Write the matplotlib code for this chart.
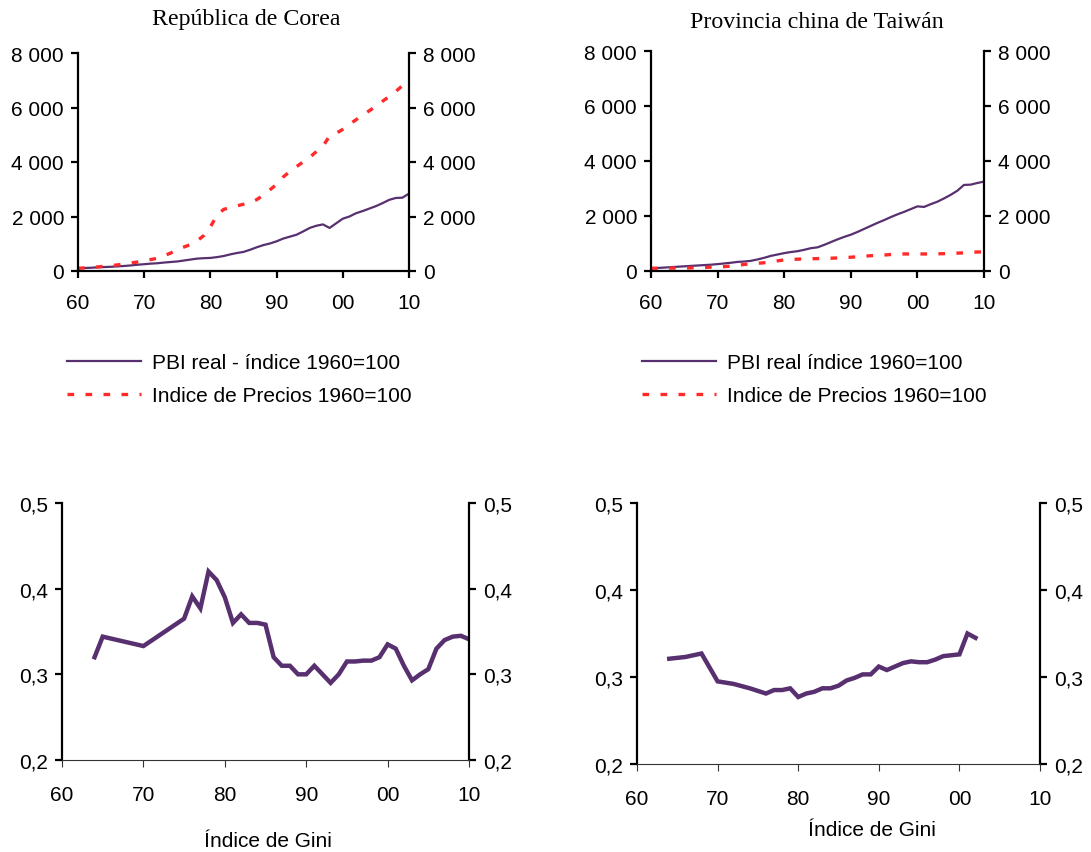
import numpy as np
import matplotlib
matplotlib.use("Agg")
from matplotlib import pyplot as plt

plt.rcParams['font.family'] = ['Liberation Sans', 'DejaVu Sans']

PURPLE = "#58306f"
RED = "#ff2a2a"

# --- datos ---
years = np.arange(1960, 2011)

# Republica de Corea, indices 1960=100
corea_pbi = [100, 110, 120, 135, 145, 155, 170, 185, 205, 230,
             250, 270, 285, 310, 330, 350, 385, 420, 455, 470,
             480, 510, 550, 610, 660, 700, 780, 870, 950, 1010,
             1090, 1190, 1260, 1330, 1450, 1580, 1660, 1710, 1580, 1750,
             1920, 2000, 2120, 2200, 2290, 2380, 2490, 2610, 2680, 2690, 2840]
corea_precios = [100, 115, 130, 150, 175, 200, 225, 260, 295, 330,
                 370, 420, 470, 560, 660, 780, 880, 970, 1110, 1300,
                 1620, 2050, 2260, 2330, 2390, 2450, 2510, 2620, 2780, 2980,
                 3180, 3450, 3650, 3830, 4000, 4170, 4380, 4580, 4950, 5050,
                 5200, 5380, 5550, 5720, 5880, 6050, 6230, 6400, 6590, 6800, 7030]

# Provincia china de Taiwan, indices 1960=100
taiwan_pbi = [100, 110, 125, 140, 155, 170, 185, 200, 215, 230,
              250, 275, 300, 330, 345, 370, 420, 480, 550, 600,
              650, 690, 720, 770, 830, 860, 950, 1050, 1150, 1240,
              1320, 1420, 1530, 1640, 1750, 1850, 1960, 2060, 2150, 2250,
              2350, 2330, 2430, 2520, 2640, 2770, 2920, 3130, 3140, 3200, 3250]
taiwan_precios = [100, 102, 104, 106, 108, 110, 115, 120, 130, 140,
                  150, 160, 175, 200, 240, 260, 280, 300, 330, 370,
                  400, 420, 430, 440, 445, 450, 455, 465, 475, 485,
                  500, 520, 540, 555, 570, 580, 600, 615, 620, 620,
                  620, 620, 620, 625, 630, 640, 650, 660, 680, 690, 700]

# Indice de Gini
gini_corea_anios = [1964, 1965, 1970, 1975, 1976, 1977, 1978, 1979, 1980, 1981,
                    1982, 1983, 1984, 1985, 1986, 1987, 1988, 1989, 1990, 1991,
                    1992, 1993, 1994, 1995, 1996, 1997, 1998, 1999, 2000, 2001,
                    2002, 2003, 2004, 2005, 2006, 2007, 2008, 2009, 2010]
gini_corea = [0.320, 0.344, 0.333, 0.365, 0.391, 0.377, 0.420, 0.410, 0.390, 0.360,
              0.370, 0.360, 0.360, 0.358, 0.320, 0.310, 0.310, 0.300, 0.300, 0.310,
              0.300, 0.290, 0.300, 0.315, 0.315, 0.316, 0.316, 0.320, 0.335, 0.330,
              0.310, 0.293, 0.300, 0.306, 0.330, 0.340, 0.344, 0.345, 0.341]

gini_taiwan_anios = [1964, 1966, 1968, 1970, 1972, 1974, 1976, 1977, 1978, 1979,
                     1980, 1981, 1982, 1983, 1984, 1985, 1986, 1987, 1988, 1989,
                     1990, 1991, 1992, 1993, 1994, 1995, 1996, 1997, 1998, 1999,
                     2000, 2001, 2002]
gini_taiwan = [0.321, 0.323, 0.327, 0.295, 0.292, 0.287, 0.281, 0.285, 0.285, 0.287,
               0.277, 0.281, 0.283, 0.287, 0.287, 0.290, 0.296, 0.299, 0.303, 0.303,
               0.312, 0.308, 0.312, 0.316, 0.318, 0.317, 0.317, 0.320, 0.324, 0.325,
               0.326, 0.350, 0.345]

xticks = [1960, 1970, 1980, 1990, 2000, 2010]
xtick_labels = ["60", "70", "80", "90", "00", "10"]
yticks_idx = [0, 2000, 4000, 6000, 8000]
ytick_idx_labels = ["0", "2 000", "4 000", "6 000", "8 000"]
yticks_gini = [0.2, 0.3, 0.4, 0.5]
ytick_gini_labels = ["0,2", "0,3", "0,4", "0,5"]

W, H = 1091, 853
fig = plt.figure(figsize=(W / 100, H / 100), dpi=100)


def add_ax(x0, x1, ytop, ybot):
    return fig.add_axes([x0 / W, (H - ybot) / H, (x1 - x0) / W, (ybot - ytop) / H])


def style(ax, yticks, ylabels, ylim, thin_bottom=False):
    ax.set_xlim(1960, 2010)
    ax.set_ylim(*ylim)
    ax.set_xticks(xticks)
    ax.set_xticklabels(xtick_labels)
    ax.set_yticks(yticks)
    ax.set_yticklabels(ylabels)
    ax.spines['top'].set_visible(False)
    for s in ['left', 'right', 'bottom']:
        ax.spines[s].set_linewidth(1.6)
    ax.yaxis.set_ticks_position('both')
    ax.tick_params(axis='y', direction='out', length=5, width=1.6,
                   labelsize=15, pad=5, labelright=True)
    ax.tick_params(axis='x', direction='out', length=5, width=1.6,
                   labelsize=15, pad=11)
    if thin_bottom:
        ax.spines['bottom'].set_linewidth(0.8)
        ax.spines['bottom'].set_color("#333333")
        ax.tick_params(axis='x', width=0.8, color="#333333", pad=13)
    ax.patch.set_visible(False)


DASH = (0, (2.0, 3.4))
LEG = dict(loc='upper left', bbox_transform=fig.transFigure, frameon=False,
           fontsize=15, handlelength=3.55, handletextpad=0.55, labelspacing=0.68,
           borderpad=0, borderaxespad=0)

# --- fila superior ---
ax1 = add_ax(78, 409, 54, 272)
l1, = ax1.plot(years, corea_pbi, color=PURPLE, lw=1.6, label="PBI real - índice 1960=100")
l2, = ax1.plot(years, corea_precios, color=RED, lw=2.4, linestyle=DASH,
               label="Indice de Precios 1960=100")
style(ax1, yticks_idx, ytick_idx_labels, (0, 8000))
fig.text(246 / W, 1 - 20 / H, "República de Corea", family="Liberation Serif",
         fontsize=17.2, ha='center', va='center')
ax1.legend(handles=[l1, l2], bbox_to_anchor=(67 / W, 1 - 354 / H), **LEG)

ax2 = add_ax(651, 984, 52, 272)
l3, = ax2.plot(years, taiwan_pbi, color=PURPLE, lw=1.6, label="PBI real índice 1960=100")
l4, = ax2.plot(years, taiwan_precios, color=RED, lw=2.4, linestyle=DASH,
               label="Indice de Precios 1960=100")
style(ax2, yticks_idx, ytick_idx_labels, (0, 8000))
fig.text(817 / W, 1 - 23 / H, "Provincia china de Taiwán", family="Liberation Serif",
         fontsize=17.2, ha='center', va='center')
ax2.legend(handles=[l3, l4], bbox_to_anchor=(642 / W, 1 - 354 / H), **LEG)

# --- fila inferior: indice de Gini ---
ax3 = add_ax(62, 469, 504, 761)
ax3.plot(gini_corea_anios, gini_corea, color=PURPLE, lw=3.2, solid_joinstyle='miter')
style(ax3, yticks_gini, ytick_gini_labels, (0.2, 0.5), thin_bottom=True)
fig.text(268 / W, 1 - 842 / H, "Índice de Gini", ha='center', va='center', fontsize=15)

ax4 = add_ax(637, 1040, 504, 765)
ax4.plot(gini_taiwan_anios, gini_taiwan, color=PURPLE, lw=3.2, solid_joinstyle='miter')
style(ax4, yticks_gini, ytick_gini_labels, (0.2, 0.5), thin_bottom=True)
fig.text(872 / W, 1 - 831 / H, "Índice de Gini", ha='center', va='center', fontsize=15)

fig.savefig("out.png", dpi=100)
